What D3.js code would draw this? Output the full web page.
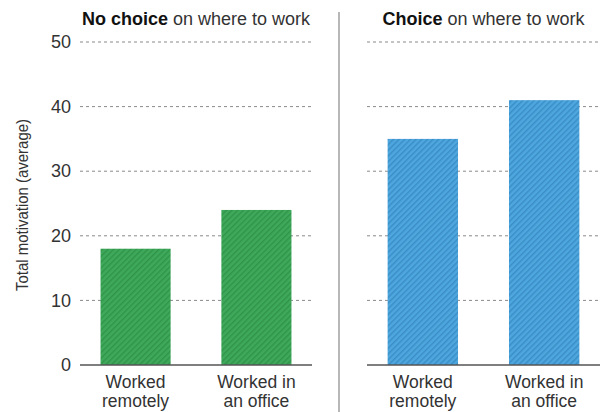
<!DOCTYPE html>
<html>
<head>
<meta charset="utf-8">
<script src="https://cdn.jsdelivr.net/npm/d3@7"></script>
<style>
  body { margin: 0; background: #fff; }
  svg text { font-family: "Liberation Sans", Arial, sans-serif; fill: #333; }
</style>
</head>
<body>
<svg id="chart" width="604" height="412"></svg>
<script>
var categories = ["Worked remotely", "Worked in an office"];
var catLines = [["Worked", "remotely"], ["Worked in", "an office"]];
var noChoiceValues = [18, 24];
var choiceValues = [35, 41];
var yTicks = [0, 10, 20, 30, 40, 50];
var panelBold = ["No choice", "Choice"];
var panelRest = " on where to work";

var svg = d3.select("#chart");
var defs = svg.append("defs");

function hatch(id, bg, line) {
  var p = defs.append("pattern").attr("id", id)
    .attr("patternUnits", "userSpaceOnUse")
    .attr("width", 4).attr("height", 4)
    .attr("patternTransform", "rotate(45)");
  p.append("rect").attr("width", 4).attr("height", 4).attr("fill", bg);
  p.append("rect").attr("width", 1.4).attr("height", 4).attr("fill", line);
}
hatch("hGreen", "#3fa95b", "#2f9449");
hatch("hBlue", "#4ea7de", "#3a8dc6");

var y = d3.scaleLinear().domain([0, 50]).range([365, 42]);

var panels = [
  { values: noChoiceValues, range: [80, 312], fill: "url(#hGreen)" },
  { values: choiceValues, range: [367, 600], fill: "url(#hBlue)" }
];

panels.forEach(function(p, i) {
  var x = d3.scaleBand().domain(categories).range(p.range)
    .paddingInner(0.42).paddingOuter(0.17);
  var g = svg.append("g");

  // gridlines
  g.selectAll(".grid").data(yTicks.filter(function(t) { return t > 0; })).enter()
    .append("line")
    .attr("x1", p.range[0]).attr("x2", p.range[1])
    .attr("y1", function(d) { return y(d); }).attr("y2", function(d) { return y(d); })
    .attr("stroke", "#8a8a8a").attr("stroke-width", 1)
    .attr("stroke-dasharray", "3,3");

  g.selectAll(".bar").data(p.values).enter()
    .append("rect")
    .attr("x", function(d, j) { return x(categories[j]); })
    .attr("y", function(d) { return y(d); })
    .attr("width", x.bandwidth())
    .attr("height", function(d) { return y(0) - y(d); })
    .attr("fill", p.fill);

  // baseline
  g.append("line")
    .attr("x1", p.range[0]).attr("x2", p.range[1])
    .attr("y1", y(0)).attr("y2", y(0))
    .attr("stroke", "#555").attr("stroke-width", 1.5);

  // category labels
  categories.forEach(function(c, j) {
    var t = g.append("text")
      .attr("x", x(c) + x.bandwidth() / 2)
      .attr("y", 388)
      .attr("text-anchor", "middle")
      .style("font-size", "17.5px");
    catLines[j].forEach(function(line, k) {
      t.append("tspan").attr("x", x(c) + x.bandwidth() / 2)
        .attr("dy", k === 0 ? 0 : 18.5).text(line);
    });
  });

  // panel title
  var title = g.append("text")
    .attr("x", (p.range[0] + p.range[1]) / 2)
    .attr("y", 25)
    .attr("text-anchor", "middle")
    .style("font-size", "18px");
  title.append("tspan").attr("font-weight", "bold").style("fill", "#111").text(panelBold[i]);
  title.append("tspan").text(panelRest);
});

// y tick labels on left panel
svg.append("g")
  .attr("transform", "translate(71,0)")
  .call(d3.axisLeft(y).tickValues(yTicks).tickSize(0).tickPadding(0))
  .call(function(g) { g.select(".domain").remove(); })
  .selectAll("text")
  .style("font-size", "18px")
  .style("font-family", "'Liberation Sans', Arial, sans-serif")
  .style("fill", "#333");

// y axis title
svg.append("text")
  .attr("transform", "translate(28,205) rotate(-90)")
  .attr("text-anchor", "middle")
  .attr("textLength", 172)
  .attr("lengthAdjust", "spacingAndGlyphs")
  .style("font-size", "16.5px")
  .text("Total motivation (average)");

// divider
svg.append("line")
  .attr("x1", 339).attr("x2", 339)
  .attr("y1", 12).attr("y2", 412)
  .attr("stroke", "#888").attr("stroke-width", 1.2);
</script>
</body>
</html>
